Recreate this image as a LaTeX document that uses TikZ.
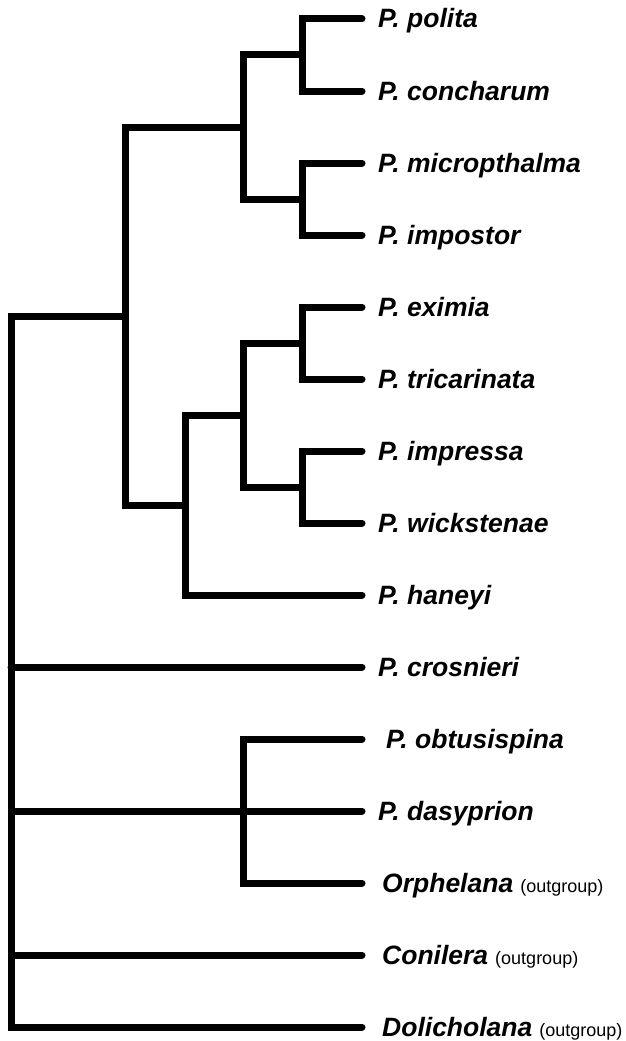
\documentclass[tikz,border=0pt]{standalone}
\usepackage{fontspec}
\setmainfont{Liberation Sans}
\usetikzlibrary{positioning}
\newcommand{\outgrp}{\hspace{7pt}{\fontsize{18}{20}\selectfont\mdseries\upshape (outgroup)}}

\begin{document}
\begin{tikzpicture}
	[x=1pt, y=-1pt, node distance=16pt,
	branch/.style={line width=7pt, line cap=round},
	taxon/.style={inner sep=0pt, text height=18pt, text depth=0pt, font=\fontsize{26.5}{30}\selectfont\bfseries\itshape}]
	\useasboundingbox (0,0) rectangle (625,1041);
	% leaf tips
	\coordinate (t1) at (362,19);
	\coordinate (t2) at (362,91);
	\coordinate (t3) at (362,163);
	\coordinate (t4) at (362,235);
	\coordinate (t5) at (362,307);
	\coordinate (t6) at (362,379);
	\coordinate (t7) at (362,451);
	\coordinate (t8) at (362,523);
	\coordinate (t9) at (362,595);
	\coordinate (t10) at (362,667);
	\coordinate (t11) at (362,739);
	\coordinate (t12) at (362,811);
	\coordinate (t13) at (362,883);
	\coordinate (t14) at (362,955);
	\coordinate (t15) at (362,1027);
	% inner nodes
	\coordinate (n1) at (302,55);
	\coordinate (n2) at (302,199);
	\coordinate (n3) at (243,127);
	\coordinate (n4) at (302,343);
	\coordinate (n5) at (302,487);
	\coordinate (n6) at (243,415);
	\coordinate (n7) at (185,505);
	\coordinate (n8) at (125,316);
	\coordinate (n9) at (243,811);
	\coordinate (root) at (11,667);
	% taxa
	\node[taxon, right=of t1] (polita) {P. polita};
	\node[taxon, right=of t2] (concharum) {P. concharum};
	\node[taxon, right=of t3] (micropthalma) {P. micropthalma};
	\node[taxon, right=of t4] (impostor) {P. impostor};
	\node[taxon, right=of t5] (eximia) {P. eximia};
	\node[taxon, right=of t6] (tricarinata) {P. tricarinata};
	\node[taxon, right=of t7] (impressa) {P. impressa};
	\node[taxon, right=of t8] (wickstenae) {P. wickstenae};
	\node[taxon, right=of t9] (haneyi) {P. haneyi};
	\node[taxon, right=of t10] (crosnieri) {P. crosnieri};
	\node[taxon, right=24pt of t11] (obtusispina) {P. obtusispina};
	\node[taxon, right=of t12] (dasyprion) {P. dasyprion};
	\node[taxon, right=20pt of t13] (orphelana) {Orphelana\outgrp};
	\node[taxon, right=20pt of t14] (conilera) {Conilera\outgrp};
	\node[taxon, right=20pt of t15] (dolicholana) {Dolicholana\outgrp};
	% branches
	\foreach \a/\b in {n1/t1, n1/t2, n2/t3, n2/t4, n3/n1, n3/n2,
		n4/t5, n4/t6, n5/t7, n5/t8, n6/n4, n6/n5, n7/n6, n7/t9,
		n8/n3, n8/n7, root/n8, root/t10, root/t12, root/t14, root/t15,
		n9/t11, n9/t13}
		\draw[branch] (\a) |- (\b);
\end{tikzpicture}
\end{document}
